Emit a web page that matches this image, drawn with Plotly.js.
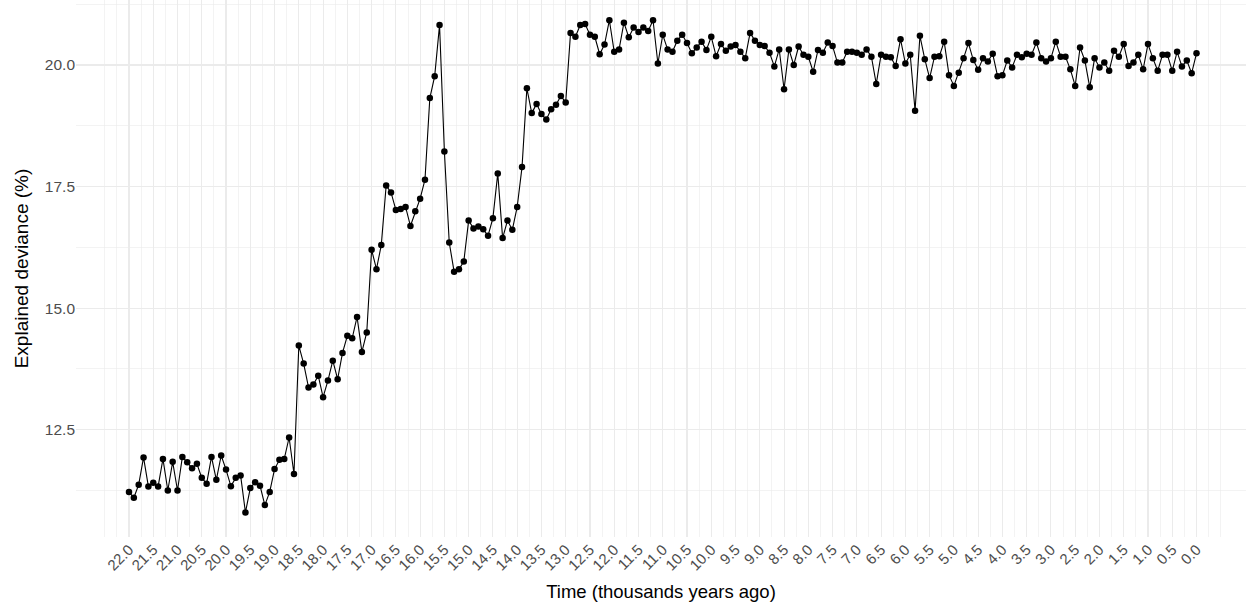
<!DOCTYPE html>
<html>
<head>
<meta charset="utf-8">
<script src="https://cdn.plot.ly/plotly-3.0.1.min.js"></script>
<style>html,body{margin:0;padding:0;background:#fff;}#chart{width:1246px;height:613px;}</style>
</head>
<body>
<div id="chart"></div>
<script>
// Time (thousands of years ago)
const timeKya = [
22.0,21.9,21.8,21.7,21.6,21.5,21.4,21.3,21.2,21.1,
21.0,20.9,20.8,20.7,20.6,20.5,20.4,20.3,20.2,20.1,
20.0,19.9,19.8,19.7,19.6,19.5,19.4,19.3,19.2,19.1,
19.0,18.9,18.8,18.7,18.6,18.5,18.4,18.3,18.2,18.1,
18.0,17.9,17.8,17.7,17.6,17.5,17.4,17.3,17.2,17.1,
17.0,16.9,16.8,16.7,16.6,16.5,16.4,16.3,16.2,16.1,
16.0,15.9,15.8,15.7,15.6,15.5,15.4,15.3,15.2,15.1,
15.0,14.9,14.8,14.7,14.6,14.5,14.4,14.3,14.2,14.1,
14.0,13.9,13.8,13.7,13.6,13.5,13.4,13.3,13.2,13.1,
13.0,12.9,12.8,12.7,12.6,12.5,12.4,12.3,12.2,12.1,
12.0,11.9,11.8,11.7,11.6,11.5,11.4,11.3,11.2,11.1,
11.0,10.9,10.8,10.7,10.6,10.5,10.4,10.3,10.2,10.1,
10.0,9.9,9.8,9.7,9.6,9.5,9.4,9.3,9.2,9.1,
9.0,8.9,8.8,8.7,8.6,8.5,8.4,8.3,8.2,8.1,
8.0,7.9,7.8,7.7,7.6,7.5,7.4,7.3,7.2,7.1,
7.0,6.9,6.8,6.7,6.6,6.5,6.4,6.3,6.2,6.1,
6.0,5.9,5.8,5.7,5.6,5.5,5.4,5.3,5.2,5.1,
5.0,4.9,4.8,4.7,4.6,4.5,4.4,4.3,4.2,4.1,
4.0,3.9,3.8,3.7,3.6,3.5,3.4,3.3,3.2,3.1,
3.0,2.9,2.8,2.7,2.6,2.5,2.4,2.3,2.2,2.1,
2.0,1.9,1.8,1.7,1.6,1.5,1.4,1.3,1.2,1.1,
1.0,0.9,0.8,0.7,0.6,0.5,0.4,0.3,0.2,0.1,
0.0
];

// Explained deviance (%)
const explainedDeviance = [
11.22,11.10,11.37,11.93,11.33,11.41,11.33,11.90,11.25,11.84,
11.25,11.94,11.83,11.71,11.80,11.51,11.39,11.94,11.47,11.97,
11.68,11.34,11.51,11.56,10.80,11.30,11.42,11.35,10.95,11.22,
11.69,11.88,11.90,12.34,11.59,14.23,13.86,13.37,13.43,13.61,
13.17,13.51,13.92,13.54,14.08,14.43,14.38,14.82,14.10,14.50,
16.20,15.80,16.30,17.52,17.38,17.02,17.04,17.08,16.69,16.99,
17.25,17.64,19.32,19.77,20.82,18.22,16.35,15.75,15.80,15.96,
16.80,16.64,16.68,16.62,16.49,16.85,17.77,16.44,16.80,16.61,
17.08,17.90,19.52,19.01,19.20,18.99,18.88,19.09,19.18,19.36,
19.23,20.66,20.58,20.82,20.84,20.62,20.58,20.22,20.42,20.92,
20.27,20.32,20.87,20.57,20.77,20.68,20.77,20.70,20.92,20.03,
20.62,20.32,20.27,20.50,20.62,20.45,20.24,20.36,20.48,20.31,
20.58,20.18,20.43,20.29,20.38,20.41,20.27,20.14,20.66,20.50,
20.41,20.39,20.25,19.97,20.32,19.50,20.32,20.00,20.38,20.21,
20.17,19.86,20.31,20.25,20.46,20.39,20.05,20.05,20.27,20.27,
20.25,20.21,20.32,20.17,19.61,20.21,20.17,20.16,19.98,20.53,
20.03,20.21,19.06,20.60,20.12,19.73,20.17,20.18,20.48,19.79,
19.57,19.84,20.14,20.45,20.10,19.90,20.14,20.07,20.23,19.77,
19.79,20.09,19.95,20.21,20.16,20.23,20.21,20.46,20.14,20.07,
20.14,20.48,20.17,20.17,19.91,19.57,20.36,20.09,19.54,20.14,
19.95,20.05,19.88,20.29,20.17,20.43,19.98,20.05,20.21,19.91,
20.43,20.14,19.88,20.21,20.21,19.88,20.27,19.97,20.09,19.83,
20.24
];

// Axis ticks
const xTickVals = [22.0,21.5,21.0,20.5,20.0,19.5,19.0,18.5,18.0,17.5,17.0,16.5,16.0,15.5,15.0,14.5,14.0,13.5,13.0,12.5,12.0,11.5,11.0,10.5,10.0,9.5,9.0,8.5,8.0,7.5,7.0,6.5,6.0,5.5,5.0,4.5,4.0,3.5,3.0,2.5,2.0,1.5,1.0,0.5,0.0];
const xTickText = ["22.0","21.5","21.0","20.5","20.0","19.5","19.0","18.5","18.0","17.5","17.0","16.5","16.0","15.5","15.0","14.5","14.0","13.5","13.0","12.5","12.0","11.5","11.0","10.5","10.0","9.5","9.0","8.5","8.0","7.5","7.0","6.5","6.0","5.5","5.0","4.5","4.0","3.5","3.0","2.5","2.0","1.5","1.0","0.5","0.0"];
const yTickVals = [12.5,15.0,17.5,20.0];
const yTickText = ["12.5","15.0","17.5","20.0"];

// minor grid positions (midpoints between breaks, plus one step beyond each end)
const xMinor = [];
const xStep = xTickVals[0] - xTickVals[1];
xMinor.push(xTickVals[0] + xStep);
xMinor.push(xTickVals[0] + xStep / 2);
for (let k = 0; k < xTickVals.length - 1; k++) xMinor.push((xTickVals[k] + xTickVals[k + 1]) / 2);
xMinor.push(xTickVals[xTickVals.length - 1] - xStep / 2);
xMinor.push(xTickVals[xTickVals.length - 1] - xStep);
const yStep = yTickVals[1] - yTickVals[0];
const yMinor = [yTickVals[0] - yStep / 2];
for (let k = 0; k < yTickVals.length - 1; k++) yMinor.push((yTickVals[k] + yTickVals[k + 1]) / 2);
yMinor.push(yTickVals[yTickVals.length - 1] + yStep / 2);

const FONT = '"Liberation Sans", Arial, Helvetica, sans-serif';
const GRID = '#EBEBEB';

const trace = {
  x: timeKya,
  y: explainedDeviance,
  type: 'scatter',
  mode: 'lines+markers',
  line: {color: '#000000', width: 1.1},
  marker: {color: '#000000', size: 6.5},
  hoverinfo: 'x+y',
  showlegend: false
};

const layout = {
  width: 1246,
  height: 613,
  margin: {l: 76, r: 0, t: 0, b: 76, pad: 0},
  paper_bgcolor: '#ffffff',
  plot_bgcolor: '#ffffff',
  font: {family: FONT, color: '#000000'},
  xaxis: {
    range: [23.092, -1.02],
    tickmode: 'array',
    tickvals: xTickVals,
    ticktext: xTickText,
    tickangle: -45,
    tickfont: {family: FONT, size: 15, color: '#4D4D4D'},
    ticks: '',
    showgrid: true,
    gridcolor: GRID,
    gridwidth: 1.1,
    minor: {tickmode: 'array', tickvals: xMinor, showgrid: true, gridcolor: GRID, gridwidth: 0.6, ticks: ''},
    zeroline: false,
    showline: false,
    automargin: false,
    title: {text: 'Time (thousands years ago)', font: {family: FONT, size: 18.5, color: '#000000'}, standoff: 12}
  },
  yaxis: {
    range: [10.294, 21.336],
    tickmode: 'array',
    tickvals: yTickVals,
    ticktext: yTickText,
    tickfont: {family: FONT, size: 15.5, color: '#4D4D4D'},
    ticks: '',
    showgrid: true,
    gridcolor: GRID,
    gridwidth: 1.1,
    minor: {tickmode: 'array', tickvals: yMinor, showgrid: true, gridcolor: GRID, gridwidth: 0.6, ticks: ''},
    zeroline: false,
    showline: false,
    automargin: false,
    title: {text: 'Explained deviance (%)', font: {family: FONT, size: 19, color: '#000000'}, standoff: 11}
  }
};

Plotly.newPlot('chart', [trace], layout, {displayModeBar: false, staticPlot: true});
</script>
</body>
</html>
